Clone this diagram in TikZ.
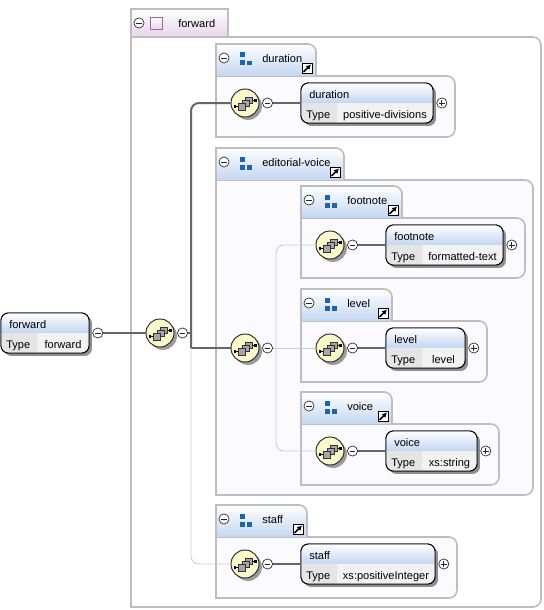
\documentclass[tikz,border=0pt]{standalone}
\usepackage{fontspec}
\setmainfont{Liberation Sans}
\usepackage{xcolor}
\usetikzlibrary{arrows.meta,positioning,fit,shadows}
\definecolor{framegray}{HTML}{BEBEBE}
\definecolor{tabblue}{HTML}{C3D6F1}
\definecolor{tabpink}{HTML}{E6D6EA}
\definecolor{iconblue}{HTML}{1F63AE}
\definecolor{seqyellow}{HTML}{FBF8CC}
\definecolor{linkdark}{HTML}{666666}
\definecolor{linklight}{HTML}{CFCFCF}
\tikzset{
    x=0.75pt, y=-0.75pt,
    label text/.style={inner sep=0pt, font=\fontsize{8.3pt}{10pt}\selectfont, text height=6pt, text depth=1.8pt},
    frame/.style={draw=framegray, line width=1.2pt},
    element/.style={draw=black, fill=white, rounded corners=5.5pt, inner sep=0pt, line width=0.7pt,
        drop shadow={shadow xshift=2.2pt, shadow yshift=-2.2pt, fill=black!55, opacity=0.8}},
    seqnode/.style={circle, draw=black!85, fill=seqyellow, line width=0.7pt, minimum size=21pt, inner sep=0pt,
        drop shadow={shadow xshift=2.2pt, shadow yshift=-2.2pt, fill=black!55, opacity=0.7}},
    signmark/.style={circle, draw=black!85, fill=white, line width=0.5pt, minimum size=7.6pt, inner sep=0pt},
    minusmark/.style={signmark,
        path picture={\draw[line width=0.5pt] ([xshift=1.6pt]path picture bounding box.west) -- ([xshift=-1.6pt]path picture bounding box.east);}},
    plusmark/.style={signmark,
        path picture={\draw[line width=0.5pt] ([xshift=1.6pt]path picture bounding box.west) -- ([xshift=-1.6pt]path picture bounding box.east);
            \draw[line width=0.5pt] ([yshift=1.6pt]path picture bounding box.south) -- ([yshift=-1.6pt]path picture bounding box.north);}},
    jumpmark/.style={draw=black, fill=white, line width=0.6pt, minimum size=7.5pt, inner sep=0pt,
        path picture={\draw[line width=1.1pt, -{Latex[length=3.6pt,width=4.2pt]}] ([shift={(1.2pt,1.2pt)}]path picture bounding box.south west) -- ([shift={(-0.8pt,-0.8pt)}]path picture bounding box.north east);}},
    boldlink/.style={draw=linkdark, line width=1.5pt},
    lightlink/.style={draw=linklight, line width=0.7pt},
    groupmark/.pic={
        \fill[iconblue] (0,0) rectangle (5,5);
        \fill[iconblue] (0,8) rectangle (5,13);
        \fill[iconblue] (7,8.5) rectangle (12,13);
    },
    seqmark/.pic={
        \draw[line width=0.6pt] (-10,3.5) -- (-7,3.5);
        \draw[line width=0.6pt] (7,-3) -- (10,-3);
        \fill (-11.5,2) rectangle (-9,5);
        \fill (9,-4.5) rectangle (11.5,-1.5);
        \filldraw[draw=black!80, fill=black!35, line width=0.4pt] (0,-6) rectangle (7,0);
        \filldraw[draw=black!80, fill=black!35, line width=0.4pt] (-3,-3) rectangle (4,3);
        \filldraw[draw=black!80, fill=black!35, line width=0.4pt] (-7,0) rectangle (0,7);
    }
}
\begin{document}
\begin{tikzpicture}
\useasboundingbox (0,0) rectangle (543,610);
% outer frame
\filldraw[frame, fill=white] (131,37) [rounded corners=6pt] -- (541,37) -- (541,607) [sharp corners] -- (131,607) -- cycle;
\filldraw[frame, top color=white, bottom color=tabpink] (131,37) -- (131,9) -- (228,9) -- (228,37) -- cycle;
\node[minusmark] (tabminusForward) at (139,23) {};
\node[draw=black!20!tabpink!60!violet, top color=white, bottom color=tabpink, line width=0.7pt, minimum size=9pt, inner sep=0pt, right=4.5pt of tabminusForward] (typeForward) {};
\node[label text, anchor=west] (nameForward) at (178,25) {forward};
% groups
\foreach \id/\tx/\tr/\ty/\tb/\br/\bb/\name in {
    Duration/216/316/44/76/455/137/duration,
    Editorial/216/344/148/180/533/495/editorial-voice,
    Footnote/301/402/186/218/525/278/footnote,
    Level/301/392/289/321/487/382/level,
    Voice/301/392/392/424/499/485/voice,
    Staff/216/307/505/537/457/598/staff}{
    \filldraw[frame, fill=blue!2] (\tx,\tb) [rounded corners=6pt] -- (\br,\tb) -- (\br,\bb) [sharp corners] -- (\tx,\bb) -- cycle;
    \path[top color=white, bottom color=tabblue] (\tx,\ty) [rounded corners=6pt] -- (\tr,\ty) [sharp corners] -- (\tr,\tb) -- (\tx,\tb) -- cycle;
    \draw[frame] (\tx,\tb) -- (\tx,\ty) [rounded corners=6pt] -- (\tr,\ty) [sharp corners] -- (\tr,\tb);
    \node[minusmark] (tabminus\id) at (\tx+8,\ty+14) {};
    \pic at (\tx+24,\ty+8.5) {groupmark};
    \node[label text, anchor=west] (tabname\id) at (\tx+46,\ty+16) {\name};
    \node[jumpmark] (jump\id) at (\tr-9,\ty+24.5) {};
}
% sequence symbols
\foreach \id/\cx/\cy in {Forward/160/333, Duration/245/103, Editorial/245/348, Footnote/330/245, Level/330/348, Voice/330/451, Staff/245/564}{
    \node[seqnode] (seq\id) at (\cx,\cy) {};
    \pic at (\cx,\cy) {seqmark};
    \node[minusmark, right=2pt of seq\id] (minus\id) {};
}
% elements
\foreach \id/\ex/\er/\ey/\name/\kind in {
    Root/1/89/333/forward/forward,
    Duration/301/433/103/duration/positive-divisions,
    Footnote/386/503/245/footnote/formatted-text,
    Level/386/465/348/level/level,
    Voice/386/477/451/voice/xs:string,
    Staff/301/435/564/staff/xs:positiveInteger}{
    \node[element, fit={(\ex,\ey-20) (\er,\ey+20)}] (el\id) {};
    \begin{scope}
        \clip[rounded corners=5.5pt] (\ex,\ey-20) rectangle (\er,\ey+20);
        \path[top color=white, bottom color=tabblue] (\ex,\ey-20) rectangle (\er,\ey);
        \fill[black!10] (\ex,\ey) rectangle (\ex+36,\ey+20);
        \fill[black!5] (\ex+36,\ey) rectangle (\er,\ey+20);
    \end{scope}
    \draw[black, line width=0.7pt, rounded corners=5.5pt] (\ex,\ey-20) rectangle (\er,\ey+20);
    \node[label text, anchor=west] (name\id) at (\ex+8,\ey-7) {\name};
    \node[label text, anchor=west] (type\id) at (\ex+5,\ey+13) {Type};
    \node[label text] (kind\id) at ({(\ex+36+\er)/2},\ey+13) {\kind};
}
\node[minusmark, right=2.2pt of elRoot] (minusRoot) {};
\foreach \id in {Duration,Footnote,Level,Voice,Staff}{
    \node[plusmark, right=2.2pt of el\id] (plus\id) {};
}
% connectors
\coordinate (trunkOuter) at (191,333);
\coordinate (trunkJoin) at (191,348);
\coordinate (trunkInner) at (276,348);
\draw[boldlink] (minusRoot.east) -- (seqForward.west);
\draw[boldlink] (minusDuration.east) -- (elDuration.west);
\draw[boldlink] (minusFootnote.east) -- (elFootnote.west);
\draw[boldlink] (minusLevel.east) -- (elLevel.west);
\draw[boldlink] (minusVoice.east) -- (elVoice.west);
\draw[boldlink] (minusStaff.east) -- (elStaff.west);
\draw[boldlink] (minusForward.east) -- (trunkOuter);
\draw[boldlink, rounded corners=6pt] (trunkJoin) |- (seqDuration.west);
\draw[boldlink] (trunkJoin) -- (seqEditorial.west);
\draw[lightlink, rounded corners=6pt] (trunkJoin) |- (seqStaff.west);
\draw[lightlink] (minusEditorial.east) -- (trunkInner);
\draw[lightlink, rounded corners=6pt] (trunkInner) |- (seqFootnote.west);
\draw[lightlink] (trunkInner) -- (seqLevel.west);
\draw[lightlink, rounded corners=6pt] (trunkInner) |- (seqVoice.west);
\end{tikzpicture}
\end{document}
